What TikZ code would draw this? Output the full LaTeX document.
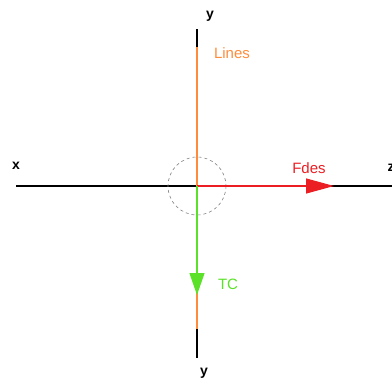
\documentclass[tikz,border=0pt]{standalone}
\usepackage{fontspec}
\setmainfont{Liberation Sans}
\usetikzlibrary{arrows.meta}
\begin{document}
\begin{tikzpicture}[x=1pt, y=-1pt, line cap=butt, line join=round,
		axis/.style={black, line width=1.2pt},
		lbl/.style={font=\fontsize{15}{17}\selectfont, inner sep=0pt},
		axlbl/.style={font=\fontsize{14}{16}\selectfont\bfseries, inner sep=0pt}]
			\definecolor{lineorange}{RGB}{255, 140, 60}
			\definecolor{fdesred}{RGB}{235, 30, 35}
			\definecolor{tcgreen}{RGB}{90, 225, 40}
			\useasboundingbox (0, 0) rectangle (392, 383);
			\coordinate (O) at (197, 186);
			\coordinate (xl) at (16, 186);
			\coordinate (xr) at (392, 186);
			\coordinate (yt) at (197, 29);
			\coordinate (yb) at (197, 358);
			\coordinate (lt) at (197, 47);
			\coordinate (lb) at (197, 329);
			\coordinate (fd) at (334, 186);
			\coordinate (tc) at (197, 295);
			\node[axlbl] (xname) at (16, 166) {x};
			\node[axlbl] (zname) at (391, 168) {z};
			\node[axlbl] (ytop) at (210, 16) {y};
			\node[axlbl] (ybot) at (204, 373) {y};
			\node[lbl, lineorange] (lines) at (232, 53) {Lines};
			\node[lbl, fdesred] (fdes) at (309, 168) {Fdes};
			\node[lbl, tcgreen] (tcname) at (228, 284) {TC};
			\draw[axis] (xl) -- (xr);
			\draw[axis] (yt) -- (yb);
			\draw[lineorange, line width=1.2pt] (lt) -- (lb);
			\draw[gray, dashed, line width=0.6pt] (O) circle (29);
			\draw[fdesred, line width=1.2pt, -{Triangle[length=28pt, width=15pt]}] (O) -- (fd);
			\draw[tcgreen, line width=1.2pt, -{Triangle[length=22pt, width=15pt]}] (O) -- (tc);
		\end{tikzpicture}
\end{document}
